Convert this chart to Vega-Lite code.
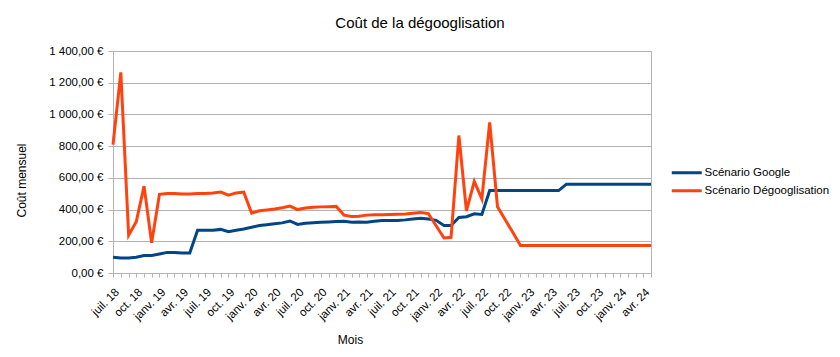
{
"$schema":"https://vega.github.io/schema/vega-lite/v6.json",
"width":538,"height":222,
"autosize":{"type":"none"},
"padding":{"left":113,"top":51,"right":189,"bottom":84},
"background":"white",
"title":{"text":"Coût de la dégooglisation","font":"Liberation Sans","fontSize":15,"fontWeight":"normal","color":"#000000","anchor":"middle","dx":38,"offset":14},
"config":{
 "font":"Liberation Sans",
 "view":{"stroke":"#b3b3b3"},
 "locale":{
  "number":{"decimal":",","thousands":"\u00a0","grouping":[3],"currency":["","\u00a0€"]},
  "time":{"dateTime":"%A %e %B %Y à %X","date":"%d/%m/%Y","time":"%H:%M:%S","periods":["AM","PM"],
   "days":["dimanche","lundi","mardi","mercredi","jeudi","vendredi","samedi"],
   "shortDays":["dim.","lun.","mar.","mer.","jeu.","ven.","sam."],
   "months":["janvier","février","mars","avril","mai","juin","juillet","août","septembre","octobre","novembre","décembre"],
   "shortMonths":["janv.","févr.","mars","avr.","mai","juin","juil.","août","sept.","oct.","nov.","déc."]}
 }
},
"data":{"values":[
{"d":"2018-07-01T00:00","s":"Scénario Google","v":100},
{"d":"2018-08-01T00:00","s":"Scénario Google","v":95},
{"d":"2018-09-01T00:00","s":"Scénario Google","v":95},
{"d":"2018-10-01T00:00","s":"Scénario Google","v":100},
{"d":"2018-11-01T00:00","s":"Scénario Google","v":110},
{"d":"2018-12-01T00:00","s":"Scénario Google","v":110},
{"d":"2019-01-01T00:00","s":"Scénario Google","v":120},
{"d":"2019-02-01T00:00","s":"Scénario Google","v":130},
{"d":"2019-03-01T00:00","s":"Scénario Google","v":130},
{"d":"2019-04-01T00:00","s":"Scénario Google","v":126},
{"d":"2019-05-01T00:00","s":"Scénario Google","v":126},
{"d":"2019-06-01T00:00","s":"Scénario Google","v":270},
{"d":"2019-07-01T00:00","s":"Scénario Google","v":270},
{"d":"2019-08-01T00:00","s":"Scénario Google","v":270},
{"d":"2019-09-01T00:00","s":"Scénario Google","v":275},
{"d":"2019-10-01T00:00","s":"Scénario Google","v":260},
{"d":"2019-11-01T00:00","s":"Scénario Google","v":270},
{"d":"2019-12-01T00:00","s":"Scénario Google","v":278},
{"d":"2020-01-01T00:00","s":"Scénario Google","v":288},
{"d":"2020-02-01T00:00","s":"Scénario Google","v":300},
{"d":"2020-03-01T00:00","s":"Scénario Google","v":305},
{"d":"2020-04-01T00:00","s":"Scénario Google","v":311},
{"d":"2020-05-01T00:00","s":"Scénario Google","v":316},
{"d":"2020-06-01T00:00","s":"Scénario Google","v":328},
{"d":"2020-07-01T00:00","s":"Scénario Google","v":306},
{"d":"2020-08-01T00:00","s":"Scénario Google","v":314},
{"d":"2020-09-01T00:00","s":"Scénario Google","v":317},
{"d":"2020-10-01T00:00","s":"Scénario Google","v":320},
{"d":"2020-11-01T00:00","s":"Scénario Google","v":322},
{"d":"2020-12-01T00:00","s":"Scénario Google","v":324},
{"d":"2021-01-01T00:00","s":"Scénario Google","v":326},
{"d":"2021-02-01T00:00","s":"Scénario Google","v":320},
{"d":"2021-03-01T00:00","s":"Scénario Google","v":322},
{"d":"2021-04-01T00:00","s":"Scénario Google","v":320},
{"d":"2021-05-01T00:00","s":"Scénario Google","v":326},
{"d":"2021-06-01T00:00","s":"Scénario Google","v":331},
{"d":"2021-07-01T00:00","s":"Scénario Google","v":331},
{"d":"2021-08-01T00:00","s":"Scénario Google","v":331},
{"d":"2021-09-01T00:00","s":"Scénario Google","v":335},
{"d":"2021-10-01T00:00","s":"Scénario Google","v":341},
{"d":"2021-11-01T00:00","s":"Scénario Google","v":345},
{"d":"2021-12-01T00:00","s":"Scénario Google","v":340},
{"d":"2022-01-01T00:00","s":"Scénario Google","v":332},
{"d":"2022-02-01T00:00","s":"Scénario Google","v":300},
{"d":"2022-03-01T00:00","s":"Scénario Google","v":300},
{"d":"2022-04-01T00:00","s":"Scénario Google","v":350},
{"d":"2022-05-01T00:00","s":"Scénario Google","v":355},
{"d":"2022-06-01T00:00","s":"Scénario Google","v":373},
{"d":"2022-07-01T00:00","s":"Scénario Google","v":369},
{"d":"2022-08-01T00:00","s":"Scénario Google","v":520},
{"d":"2022-09-01T00:00","s":"Scénario Google","v":520},
{"d":"2022-10-01T00:00","s":"Scénario Google","v":520},
{"d":"2022-11-01T00:00","s":"Scénario Google","v":520},
{"d":"2022-12-01T00:00","s":"Scénario Google","v":520},
{"d":"2023-01-01T00:00","s":"Scénario Google","v":520},
{"d":"2023-02-01T00:00","s":"Scénario Google","v":520},
{"d":"2023-03-01T00:00","s":"Scénario Google","v":520},
{"d":"2023-04-01T00:00","s":"Scénario Google","v":520},
{"d":"2023-05-01T00:00","s":"Scénario Google","v":520},
{"d":"2023-06-01T00:00","s":"Scénario Google","v":560},
{"d":"2023-07-01T00:00","s":"Scénario Google","v":560},
{"d":"2023-08-01T00:00","s":"Scénario Google","v":560},
{"d":"2023-09-01T00:00","s":"Scénario Google","v":560},
{"d":"2023-10-01T00:00","s":"Scénario Google","v":560},
{"d":"2023-11-01T00:00","s":"Scénario Google","v":560},
{"d":"2023-12-01T00:00","s":"Scénario Google","v":560},
{"d":"2024-01-01T00:00","s":"Scénario Google","v":560},
{"d":"2024-02-01T00:00","s":"Scénario Google","v":560},
{"d":"2024-03-01T00:00","s":"Scénario Google","v":560},
{"d":"2024-04-01T00:00","s":"Scénario Google","v":560},
{"d":"2024-05-01T00:00","s":"Scénario Google","v":560},
{"d":"2018-07-01T00:00","s":"Scénario Dégooglisation","v":810},
{"d":"2018-08-01T00:00","s":"Scénario Dégooglisation","v":1265},
{"d":"2018-09-01T00:00","s":"Scénario Dégooglisation","v":238},
{"d":"2018-10-01T00:00","s":"Scénario Dégooglisation","v":323},
{"d":"2018-11-01T00:00","s":"Scénario Dégooglisation","v":548},
{"d":"2018-12-01T00:00","s":"Scénario Dégooglisation","v":190},
{"d":"2019-01-01T00:00","s":"Scénario Dégooglisation","v":496},
{"d":"2019-02-01T00:00","s":"Scénario Dégooglisation","v":502},
{"d":"2019-03-01T00:00","s":"Scénario Dégooglisation","v":502},
{"d":"2019-04-01T00:00","s":"Scénario Dégooglisation","v":498},
{"d":"2019-05-01T00:00","s":"Scénario Dégooglisation","v":498},
{"d":"2019-06-01T00:00","s":"Scénario Dégooglisation","v":502},
{"d":"2019-07-01T00:00","s":"Scénario Dégooglisation","v":502},
{"d":"2019-08-01T00:00","s":"Scénario Dégooglisation","v":505},
{"d":"2019-09-01T00:00","s":"Scénario Dégooglisation","v":510},
{"d":"2019-10-01T00:00","s":"Scénario Dégooglisation","v":491},
{"d":"2019-11-01T00:00","s":"Scénario Dégooglisation","v":505},
{"d":"2019-12-01T00:00","s":"Scénario Dégooglisation","v":510},
{"d":"2020-01-01T00:00","s":"Scénario Dégooglisation","v":378},
{"d":"2020-02-01T00:00","s":"Scénario Dégooglisation","v":392},
{"d":"2020-03-01T00:00","s":"Scénario Dégooglisation","v":398},
{"d":"2020-04-01T00:00","s":"Scénario Dégooglisation","v":404},
{"d":"2020-05-01T00:00","s":"Scénario Dégooglisation","v":412},
{"d":"2020-06-01T00:00","s":"Scénario Dégooglisation","v":422},
{"d":"2020-07-01T00:00","s":"Scénario Dégooglisation","v":400},
{"d":"2020-08-01T00:00","s":"Scénario Dégooglisation","v":410},
{"d":"2020-09-01T00:00","s":"Scénario Dégooglisation","v":415},
{"d":"2020-10-01T00:00","s":"Scénario Dégooglisation","v":417},
{"d":"2020-11-01T00:00","s":"Scénario Dégooglisation","v":418},
{"d":"2020-12-01T00:00","s":"Scénario Dégooglisation","v":420},
{"d":"2021-01-01T00:00","s":"Scénario Dégooglisation","v":365},
{"d":"2021-02-01T00:00","s":"Scénario Dégooglisation","v":356},
{"d":"2021-03-01T00:00","s":"Scénario Dégooglisation","v":358},
{"d":"2021-04-01T00:00","s":"Scénario Dégooglisation","v":365},
{"d":"2021-05-01T00:00","s":"Scénario Dégooglisation","v":368},
{"d":"2021-06-01T00:00","s":"Scénario Dégooglisation","v":368},
{"d":"2021-07-01T00:00","s":"Scénario Dégooglisation","v":369},
{"d":"2021-08-01T00:00","s":"Scénario Dégooglisation","v":370},
{"d":"2021-09-01T00:00","s":"Scénario Dégooglisation","v":372},
{"d":"2021-10-01T00:00","s":"Scénario Dégooglisation","v":377},
{"d":"2021-11-01T00:00","s":"Scénario Dégooglisation","v":382},
{"d":"2021-12-01T00:00","s":"Scénario Dégooglisation","v":375},
{"d":"2022-01-01T00:00","s":"Scénario Dégooglisation","v":298},
{"d":"2022-02-01T00:00","s":"Scénario Dégooglisation","v":221},
{"d":"2022-03-01T00:00","s":"Scénario Dégooglisation","v":225},
{"d":"2022-04-01T00:00","s":"Scénario Dégooglisation","v":867},
{"d":"2022-05-01T00:00","s":"Scénario Dégooglisation","v":392},
{"d":"2022-06-01T00:00","s":"Scénario Dégooglisation","v":578},
{"d":"2022-07-01T00:00","s":"Scénario Dégooglisation","v":468},
{"d":"2022-08-01T00:00","s":"Scénario Dégooglisation","v":950},
{"d":"2022-09-01T00:00","s":"Scénario Dégooglisation","v":418},
{"d":"2022-10-01T00:00","s":"Scénario Dégooglisation","v":337},
{"d":"2022-11-01T00:00","s":"Scénario Dégooglisation","v":255},
{"d":"2022-12-01T00:00","s":"Scénario Dégooglisation","v":173},
{"d":"2023-01-01T00:00","s":"Scénario Dégooglisation","v":173},
{"d":"2023-02-01T00:00","s":"Scénario Dégooglisation","v":173},
{"d":"2023-03-01T00:00","s":"Scénario Dégooglisation","v":173},
{"d":"2023-04-01T00:00","s":"Scénario Dégooglisation","v":173},
{"d":"2023-05-01T00:00","s":"Scénario Dégooglisation","v":173},
{"d":"2023-06-01T00:00","s":"Scénario Dégooglisation","v":173},
{"d":"2023-07-01T00:00","s":"Scénario Dégooglisation","v":173},
{"d":"2023-08-01T00:00","s":"Scénario Dégooglisation","v":173},
{"d":"2023-09-01T00:00","s":"Scénario Dégooglisation","v":173},
{"d":"2023-10-01T00:00","s":"Scénario Dégooglisation","v":173},
{"d":"2023-11-01T00:00","s":"Scénario Dégooglisation","v":173},
{"d":"2023-12-01T00:00","s":"Scénario Dégooglisation","v":173},
{"d":"2024-01-01T00:00","s":"Scénario Dégooglisation","v":173},
{"d":"2024-02-01T00:00","s":"Scénario Dégooglisation","v":173},
{"d":"2024-03-01T00:00","s":"Scénario Dégooglisation","v":173},
{"d":"2024-04-01T00:00","s":"Scénario Dégooglisation","v":173},
{"d":"2024-05-01T00:00","s":"Scénario Dégooglisation","v":173}
]},
"mark":{"type":"line","strokeWidth":3},
"encoding":{
 "x":{"field":"d","type":"temporal","title":"Mois",
  "scale":{"nice":false},
  "axis":{"tickCount":{"interval":"month","step":1},"format":"%b %y",
   "labelExpr":"month(datum.value) % 3 == 0 ? datum.label : ''",
   "labelAngle":-45,"labelAlign":"right","labelBaseline":"top","labelOverlap":false,"labelFlush":false,"labelBound":false,
   "labelFont":"Liberation Sans","labelFontSize":11.5,"labelColor":"#000000","labelPadding":9,
   "grid":false,"domainColor":"#b3b3b3","tickColor":"#b3b3b3","tickSize":4,
   "titleFont":"Liberation Sans","titleFontSize":12,"titleFontWeight":"normal","titleColor":"#000000",
   "titleX":237,"titleY":66,"titleAlign":"center","titleBaseline":"middle","titleAnchor":null}},
 "y":{"field":"v","type":"quantitative","title":"Coût mensuel",
  "scale":{"domain":[0,1400],"nice":false,"zero":true},
  "axis":{"values":[0,200,400,600,800,1000,1200,1400],"format":"$,.2f",
   "labelFont":"Liberation Sans","labelFontSize":11.5,"labelColor":"#000000","labelPadding":5,
   "grid":true,"gridColor":"#b3b3b3","domainColor":"#b3b3b3","tickColor":"#b3b3b3","tickSize":5,
   "titleFont":"Liberation Sans","titleFontSize":12,"titleFontWeight":"normal","titleColor":"#000000",
   "titleX":-92,"titleY":129,"titleAngle":-90,"titleAlign":"center","titleBaseline":"middle"}},
 "color":{"field":"s","type":"nominal",
  "scale":{"domain":["Scénario Google","Scénario Dégooglisation"],"range":["#004586","#ff420e"]},
  "legend":{"title":null,"orient":"none","legendX":568,"legendY":116,"symbolType":"M-5,0H5","symbolSize":36,"symbolStrokeWidth":3,
   "labelFont":"Liberation Sans","labelFontSize":11.5,"labelColor":"#000000","labelOffset":12,"rowPadding":5}}
}
}
